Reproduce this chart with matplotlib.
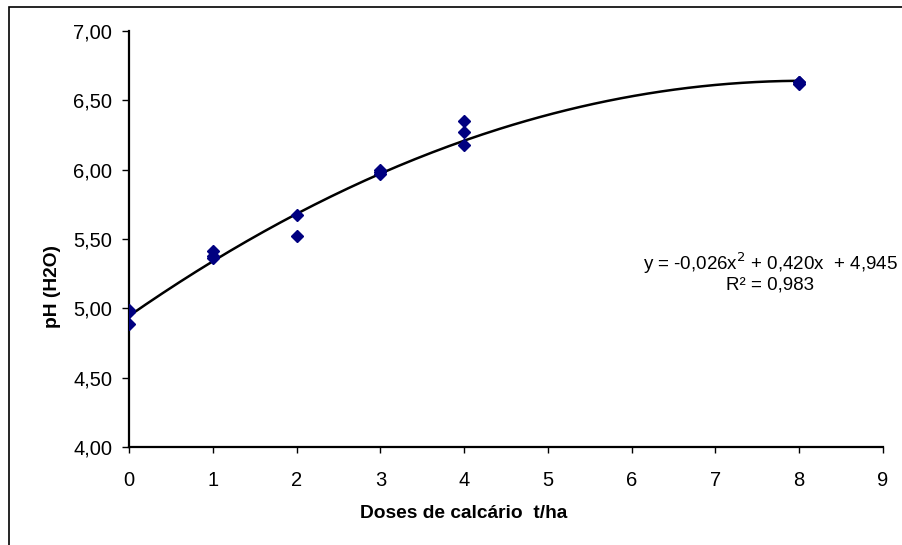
import numpy as np
import matplotlib.pyplot as plt
from matplotlib.patches import Rectangle

plt.rcParams['font.family'] = ['Liberation Sans', 'DejaVu Sans']

# observed pH values per lime dose
doses = [0, 0, 0, 1, 1, 1, 2, 2, 3, 3, 3, 4, 4, 4, 8, 8, 8]
ph = [4.99, 4.97, 4.89, 5.41, 5.38, 5.36, 5.67, 5.52, 6.00, 5.98, 5.97,
      6.35, 6.27, 6.18, 6.63, 6.63, 6.62]

# quadratic fit coefficients (a, b, c)
coef = [-0.026, 0.420, 4.945]
r2 = 0.983

xticks = [0, 1, 2, 3, 4, 5, 6, 7, 8, 9]
yticks = [4.0, 4.5, 5.0, 5.5, 6.0, 6.5, 7.0]


def main():
    fig = plt.figure(figsize=(9.02, 5.45), dpi=100)
    ax = fig.add_axes([129 / 902, 1 - 447 / 545, 754 / 902, 416 / 545])

    xs = np.linspace(0, 8, 200)
    ax.plot(xs, np.polyval(coef, xs), color='black', lw=1.8, zorder=2)
    ax.plot(doses, ph, 'D', color='#000080', markersize=6, zorder=3)

    ax.set_xlim(0, 9)
    ax.set_ylim(4, 7)
    ax.set_xticks(xticks)
    ax.set_yticks(yticks)
    ax.set_yticklabels([f'{v:.2f}'.replace('.', ',') for v in yticks])
    ax.tick_params(axis='both', labelsize=14.5, width=1, color='black')
    ax.tick_params(axis='x', length=4, direction='out', pad=13)
    ax.tick_params(axis='y', length=5, direction='out', pad=7)
    for s in ['top', 'right']:
        ax.spines[s].set_visible(False)
    for s in ['left', 'bottom']:
        ax.spines[s].set_linewidth(1.6)

    ax.set_xlabel('Doses de calcário  t/ha', fontsize=13.8, fontweight='bold')
    ax.set_ylabel('pH (H2O)', fontsize=13.8, fontweight='bold')
    ax.xaxis.set_label_coords(0.4436, -0.159)
    ax.yaxis.set_label_coords(-0.1008, 0.385)
    ax.xaxis.label.set_va('center')
    ax.yaxis.label.set_va('center')

    eq = f'y = {coef[0]:.3f}x$^2$ + {coef[1]:.3f}x  + {coef[2]:.3f}'.replace('.', ',')
    eq += f'\nR² = {r2:.3f}'.replace('.', ',')
    ax.text(770 / 902, 1 - 272 / 545, eq, transform=fig.transFigure,
            ha='center', va='center', fontsize=13.5, linespacing=1.0)

    fig.patches.append(Rectangle((9 / 902, -0.1), 1.2, 1 - 7 / 545 + 0.1,
                                 transform=fig.transFigure, fill=False,
                                 edgecolor='black', lw=1.2))

    fig.savefig('out.png', dpi=100)


if __name__ == "__main__":
    main()
